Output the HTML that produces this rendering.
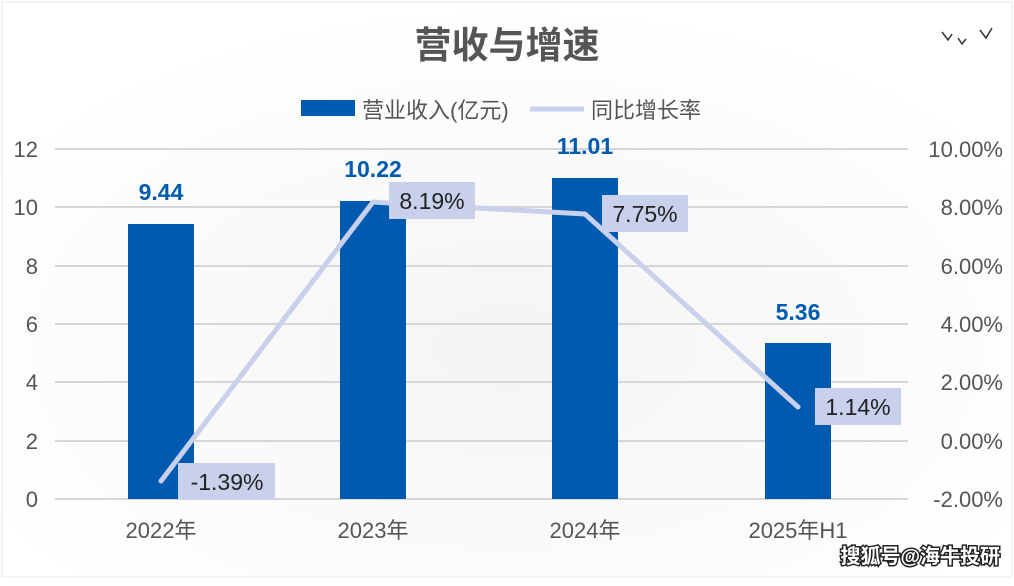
<!DOCTYPE html>
<html><head><meta charset="utf-8"><style>
body{margin:0;width:1014px;height:581px;overflow:hidden;background:#fff;font-family:"Liberation Sans","Noto Sans CJK SC",sans-serif}
</style></head><body>
<svg width="1014" height="581" xmlns="http://www.w3.org/2000/svg" font-family="Liberation Sans, Noto Sans CJK SC, sans-serif">
<defs><radialGradient id="g" cx="0.5" cy="0.6" r="0.6"><stop offset="0" stop-color="#f4f4f4"/><stop offset="1" stop-color="#fff"/></radialGradient></defs>
<rect width="1014" height="581" fill="#fff"/>
<rect x="2" y="2" width="1010" height="575" fill="url(#g)" stroke="#e8e8e8"/>
<text x="507" y="58" text-anchor="middle" font-size="37" font-weight="bold" fill="#555">营收与增速</text>
<rect x="301" y="100" width="54" height="16" fill="#005bb0"/>
<text x="362" y="118" font-size="22" fill="#555">营业收入(亿元)</text>
<line x1="530" y1="109" x2="584" y2="109" stroke="#c9d0ec" stroke-width="5"/>
<text x="591" y="118" font-size="22" fill="#555">同比增长率</text>
<g stroke="#d6d6d6" stroke-width="2">
<line x1="55" x2="908" y1="149" y2="149"/><line x1="55" x2="908" y1="207" y2="207"/><line x1="55" x2="908" y1="266" y2="266"/><line x1="55" x2="908" y1="324" y2="324"/><line x1="55" x2="908" y1="382" y2="382"/><line x1="55" x2="908" y1="441" y2="441"/><line x1="55" x2="908" y1="499" y2="499"/>
</g>
<g font-size="22" fill="#555" text-anchor="end">
<text x="38" y="157">12</text><text x="38" y="215">10</text><text x="38" y="274">8</text><text x="38" y="332">6</text><text x="38" y="390">4</text><text x="38" y="449">2</text><text x="38" y="507">0</text>
</g>
<g font-size="22" fill="#555" text-anchor="end">
<text x="1003" y="157">10.00%</text><text x="1003" y="215">8.00%</text><text x="1003" y="274">6.00%</text><text x="1003" y="332">4.00%</text><text x="1003" y="390">2.00%</text><text x="1003" y="449">0.00%</text><text x="1003" y="507">-2.00%</text>
</g>
<g fill="#005bb0">
<rect x="128" y="224" width="66" height="275"/>
<rect x="340" y="201" width="66" height="298"/>
<rect x="552" y="178" width="66" height="321"/>
<rect x="765" y="343" width="66" height="156"/>
</g>
<g font-size="23" font-weight="bold" fill="#005bb0" text-anchor="middle">
<text x="161" y="200">9.44</text><text x="373" y="177">10.22</text><text x="585" y="154">11.01</text><text x="798" y="320">5.36</text>
</g>
<polyline points="161,481 373,202 585,214 798,407" fill="none" stroke="#c9d0ec" stroke-width="5" stroke-linejoin="round" stroke-linecap="round"/>
<g fill="#c9d0ec">
<rect x="178" y="463" width="97" height="37"/>
<rect x="389" y="182" width="86" height="37"/>
<rect x="602" y="195" width="86" height="37"/>
<rect x="815" y="388" width="86" height="37"/>
</g>
<g font-size="23" fill="#222" text-anchor="middle">
<text x="227" y="490">-1.39%</text><text x="432" y="209">8.19%</text><text x="645" y="222">7.75%</text><text x="858" y="415">1.14%</text>
</g>
<g font-size="22" fill="#555" text-anchor="middle">
<text x="161" y="538">2022年</text><text x="373" y="538">2023年</text><text x="585" y="538">2024年</text><text x="798" y="538">2025年H1</text>
</g>
<text x="1000" y="563" text-anchor="end" font-size="20" font-weight="bold" fill="#fff" stroke="#222" stroke-width="3" paint-order="stroke">搜狐号@海牛投研</text>
<path d="M942 32 l6 8 l4 -6 M958 38 l4 6 l4 -5 M980 30 l6 8 l6 -10" fill="none" stroke="#333" stroke-width="1.5"/>
</svg>
</body></html>
